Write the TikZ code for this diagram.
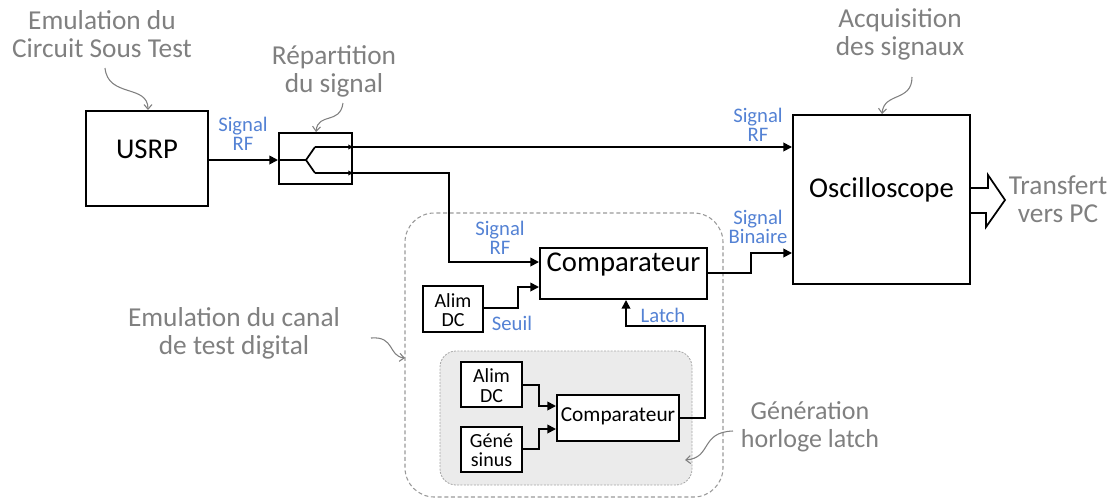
\documentclass[tikz,border=0pt]{standalone}
\usepackage{fontspec}
\setmainfont{Carlito}
\usetikzlibrary{arrows.meta,fit,positioning}
\definecolor{annot}{RGB}{128,128,128}
\definecolor{sig}{RGB}{84,130,212}
\begin{document}
\begin{tikzpicture}[x=0.75pt,y=-0.75pt,
  box/.style={draw=black,line width=1.5pt,inner sep=0pt,fill=white},
  bigtxt/.style={font=\fontsize{21.5}{23}\selectfont},
  smalltxt/.style={font=\fontsize{15}{14.5}\selectfont,align=center,inner sep=0pt,yshift=-0.8pt},
  ann/.style={text=annot,font=\fontsize{20.5}{21}\selectfont,align=center,inner sep=0pt},
  siglab/.style={text=sig,font=\fontsize{15.5}{14.5}\selectfont,align=center,inner sep=0pt},
  wire/.style={line width=1.3pt,draw=black},
  arr/.style={wire,-{Triangle[length=6.5pt,width=6.5pt]}},
  tinyarr/.style={wire,-{Triangle[length=3.5pt,width=3.5pt]}},
  annarr/.style={draw=annot,line width=0.8pt,-{Straight Barb[length=3.5pt,width=6pt]}},
  region/.style={draw=annot!80,line width=0.8pt,dash pattern=on 3pt off 2pt,rounded corners=22pt,inner sep=0pt},
  subregion/.style={draw=annot!70,fill=black!8,line width=0.6pt,dash pattern=on 1.5pt off 1pt,rounded corners=12pt,inner sep=0pt}
]
\useasboundingbox (0,0) rectangle (1116,500);

% regions
\node[region,fit={(405,213) (723,497)}] (canal) {};
\node[subregion,fit={(440,351) (692,485)}] (horl) {};

% boxes
\node[box,bigtxt,fit={(86,111) (208,206)}] (usrp) {USRP};
\node[box,fit={(279,133) (352,184)}] (split) {};
\node[box,bigtxt,fit={(793,115) (970,284)}] (osc) {Oscilloscope};
\node[box,bigtxt,fit={(540,248) (707,299)}] (comp) {Comparateur};
\node[box,fit={(423,286) (483,332)}] (alimA) {};
\node[box,fit={(461,362) (522,407)}] (alimB) {};
\node[box,fit={(461,427) (522,472)}] (gene) {};
\node[box,fit={(557,395) (679,441)}] (compB) {};
\node[smalltxt] (alimAt) at (alimA.center) {Alim\\DC};
\node[smalltxt] (alimBt) at (alimB.center) {Alim\\DC};
\node[smalltxt] (genet) at (gene.center) {Géné\\sinus};
\node[smalltxt,font=\fontsize{16}{16}\selectfont,yshift=2pt] (compBt) at (compB.center) {Comparateur};

% annotations
\node[ann] (a1) at (102,34) {Emulation du\\Circuit Sous Test};
\node[ann] (a2) at (334,71) {Répartition\\du signal};
\node[ann] (a3) at (900,34) {Acquisition\\des signaux};
\node[ann] (a4) at (234,333) {Emulation du canal\\de test digital};
\node[ann,font=\fontsize{19.5}{21}\selectfont] (a5) at (810,427) {Génération\\horloge latch};
\node[ann] (a6) at (1058,199) {Transfert\\vers PC};

\coordinate (c1s) at (105,68);
\coordinate (c2s) at (343,103);
\coordinate (c3s) at (912,77);
\coordinate (c4s) at (371,338);
\coordinate (c4e) at (405,358);
\coordinate (c5s) at (733,431);
\coordinate (c5e) at (685,460);
\draw[annarr] (c1s) .. controls (108,98) and (148,84) .. (usrp.north -| 148,0);
\draw[annarr] (c2s) .. controls (340,125) and (318,112) .. (split.north -| 316,0);
\draw[annarr] (c3s) .. controls (912,102) and (884,92) .. (osc.north -| 882,0);
\draw[annarr] (c4s) .. controls (395,336) and (388,356) .. (c4e);
\draw[annarr] (c5s) .. controls (700,432) and (712,458) .. (c5e);

% signal labels
\node[siglab] (l1) at (243,134) {Signal\\RF};
\node[siglab] (l2) at (758,125) {Signal\\RF};
\node[siglab] (l3) at (758,227) {Signal\\Binaire};
\node[siglab] (l4) at (500,238) {Signal\\RF};
\node[siglab] (l5) at (512,323) {Seuil};
\node[siglab] (l6) at (663,315) {Latch};

% splitter internals
\coordinate (sJ) at (306,160);
\coordinate (sA) at (315,147);
\coordinate (sB) at (315,173);
\draw[arr] (usrp.east |- sJ) -- (split.west |- sJ);
\draw[wire] (split.west |- sJ) -- (sJ) -- (sA);
\draw[wire] (sJ) -- (sB);
\draw[tinyarr] (sA) -- (split.east |- sA);
\draw[tinyarr] (sB) -- (split.east |- sB);

% main connections
\draw[arr] (split.east |- sA) -- (osc.west |- sA);
\coordinate (rfb) at (449,262);
\draw[arr] (split.east |- sB) -| (rfb) -- (comp.west |- rfb);
\coordinate (s1) at (518,308);
\coordinate (s2) at (518,287);
\draw[arr] (alimA.east |- s1) -- (s1) -- (s2) -- (comp.west |- s2);
\coordinate (b1) at (751,273);
\coordinate (b2) at (751,253);
\draw[arr] (comp.east |- b1) -- (b1) -- (b2) -- (osc.west |- b2);
\coordinate (L0) at (705,418);
\coordinate (L1) at (705,326);
\coordinate (L2) at (626,326);
\draw[arr] (compB.east |- L0) -- (L0) -- (L1) -- (L2) -- (comp.south -| L2);
\coordinate (d1) at (539,385);
\coordinate (d2) at (539,406);
\draw[arr] (alimB.east |- d1) -- (d1) -- (d2) -- (compB.west |- d2);
\coordinate (g1) at (539,449);
\coordinate (g2) at (539,429);
\draw[arr] (gene.east |- g1) -- (g1) -- (g2) -- (compB.west |- g2);

% hollow transfer arrow
\draw[line width=1.3pt,fill=white,line join=miter] (osc.east |- 0,188) -- ++(17,0) -- ++(0,-13) -- (1005,200) -- (986,227) -- ++(0,-14) -- (osc.east |- 0,213);
\end{tikzpicture}
\end{document}
